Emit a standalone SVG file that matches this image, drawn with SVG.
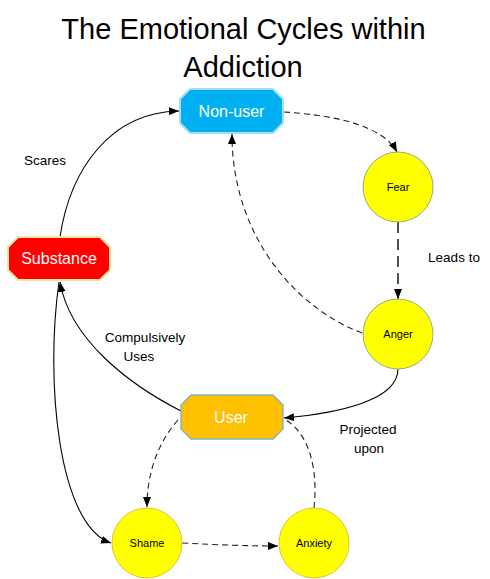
<svg xmlns="http://www.w3.org/2000/svg" width="490" height="579" viewBox="0 0 490 579">
<defs>
<style>
text{font-family:"Liberation Sans",Arial,sans-serif;text-anchor:middle}
.title{font-size:29px;fill:#000}
.nlab{font-size:16px;fill:#fff}
.clab{font-size:11px;fill:#000}
.elab{font-size:13.5px;fill:#000}
.c{fill:#ffff00;stroke:#8fae7c;stroke-width:1}
.solid{fill:none;stroke:#000;stroke-width:1.1}
.dash{fill:none;stroke:#222;stroke-width:1.1;stroke-dasharray:6,4}
.ldash{fill:none;stroke:#222;stroke-width:1.6;stroke-dasharray:11,6}
</style>
<marker id="ah" viewBox="0 0 10 8" refX="10" refY="4" markerWidth="10" markerHeight="8" markerUnits="userSpaceOnUse" orient="auto">
<path d="M0,0 L10,4 L0,8 Z" fill="#000"/>
</marker>
</defs>
<rect width="490" height="579" fill="#fff"/>
<g id="title">
<text class="title" x="243.5" y="39">The Emotional Cycles within</text>
<text class="title" x="243" y="77">Addiction</text>
</g>
<g id="connectors">
<path class="solid" d="M60,237 C70,170 110,112 179,111" marker-end="url(#ah)"/>
<path class="dash" d="M284,112 C330,115 382,124 397,152" marker-end="url(#ah)"/>
<path class="ldash" d="M398,222 L398,299" marker-end="url(#ah)"/>
<path class="dash" d="M362,333 C300,310 232,240 232,134" marker-end="url(#ah)"/>
<path class="solid" d="M398,369 C398,400 340,413 284,418" marker-end="url(#ah)"/>
<path class="solid" d="M181,411 C130,385 70,340 60,282" marker-end="url(#ah)"/>
<path class="solid" d="M59,282 C45,380 58,525 111,543" marker-end="url(#ah)"/>
<path class="dash" d="M178,420 C160,440 147,470 147,507" marker-end="url(#ah)"/>
<path class="dash" d="M182,543 C220,545 250,546 278,546" marker-end="url(#ah)"/>
<path class="dash" d="M314,508 C318,470 310,435 286,420"/>
<text class="elab" x="45" y="165">Scares</text>
<text class="elab" x="454" y="262">Leads to</text>
<text class="elab" x="145" y="342">Compulsively</text>
<text class="elab" x="139" y="361">Uses</text>
<text class="elab" x="368" y="434">Projected</text>
<text class="elab" x="369" y="453">upon</text>
</g>
<g id="nonuser">
<polygon points="190,89 273,89 283,99 283,123 273,133 190,133 180,123 180,99" fill="#00b0f0" stroke="#a6dcf4" stroke-width="2"/>
<text class="nlab" x="231.5" y="117">Non-user</text>
</g>
<g id="substance">
<polygon points="18,237 100,237 110,247 110,270 100,280 18,280 8,270 8,247" fill="#ff0000" stroke="#f3e7a0" stroke-width="2"/>
<text class="nlab" x="59" y="264">Substance</text>
</g>
<g id="user">
<polygon points="191,395 273,395 283,405 283,429 273,439 191,439 181,429 181,405" fill="#ffc000" stroke="#7fb8c0" stroke-width="1.5"/>
<text class="nlab" x="231" y="423">User</text>
</g>
<g id="fear">
<circle class="c" cx="398" cy="187" r="35"/>
<text class="clab" x="398" y="191">Fear</text>
</g>
<g id="anger">
<circle class="c" cx="398" cy="334" r="35"/>
<text class="clab" x="398" y="338">Anger</text>
</g>
<g id="shame">
<circle class="c" cx="147" cy="543" r="35" style="stroke:#e0c040"/>
<text class="clab" x="147" y="547">Shame</text>
</g>
<g id="anxiety">
<circle class="c" cx="314" cy="543" r="35" style="stroke:#e0c040"/>
<text class="clab" x="314" y="547">Anxiety</text>
</g>
</svg>
